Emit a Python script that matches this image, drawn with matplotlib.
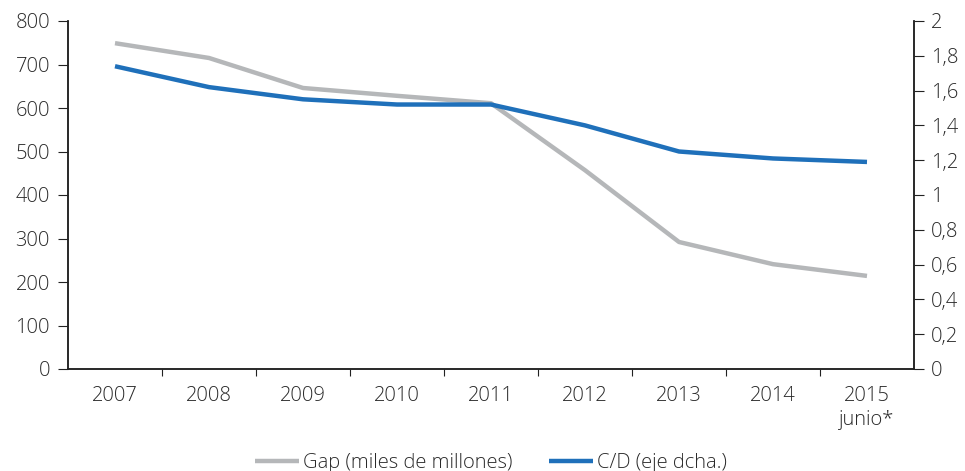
import matplotlib

matplotlib.use("Agg")
import matplotlib.pyplot as plt

YEARS = ["2007", "2008", "2009", "2010", "2011", "2012", "2013", "2014", "2015\njunio*"]
GAP = [749, 715, 646, 628, 611, 457, 292, 241, 214]
CD = [1.74, 1.62, 1.55, 1.52, 1.52, 1.40, 1.25, 1.21, 1.19]
LEFT_TICKS = [0, 100, 200, 300, 400, 500, 600, 700, 800]
RIGHT_TICKS = [0, 0.2, 0.4, 0.6, 0.8, 1, 1.2, 1.4, 1.6, 1.8, 2]

GREY, BLUE, INK, TXT = "#B5B7B9", "#1F70BA", "#222222", "#2A2A2A"

plt.rcParams["font.family"] = ["Open Sans", "DejaVu Sans"]
plt.rcParams["font.weight"] = "light"
plt.rcParams["font.size"] = 14.5
plt.rcParams["text.color"] = TXT

fig = plt.figure(figsize=(9.65, 4.71), dpi=100)
ax = fig.add_axes([68 / 965, 102 / 471, 846 / 965, 348 / 471])
ax2 = ax.twinx()

x = list(range(len(YEARS)))
lg, = ax.plot(x, GAP, color=GREY, lw=3.2, solid_capstyle="butt", zorder=2)
lb, = ax2.plot(x, CD, color=BLUE, lw=3.2, solid_capstyle="butt", zorder=3)

ax.set_xlim(-0.5, len(YEARS) - 0.5)
ax.set_ylim(0, 800)
ax2.set_ylim(0, 2)
ax.set_yticks(LEFT_TICKS)
ax2.set_yticks(RIGHT_TICKS)
ax2.set_yticklabels([f"{v:g}".replace(".", ",") for v in RIGHT_TICKS])

# category labels sit between boundary ticks
ax.set_xticks([i + 0.5 for i in range(len(YEARS) - 1)])
ax.set_xticklabels([])
ax.set_xticks(x, minor=True)
ax.set_xticklabels(YEARS, minor=True, linespacing=1.3)
ax.tick_params(axis="x", which="major", length=5, direction="out", color=INK)
ax.tick_params(axis="x", which="minor", length=0, pad=12, labelcolor=TXT)
ax.tick_params(axis="y", length=7, color=INK, labelcolor=TXT, pad=6)
ax2.tick_params(axis="y", length=7, color=INK, labelcolor=TXT, pad=5)

for a in (ax, ax2):
    a.spines["top"].set_visible(False)
    for s in ("left", "right", "bottom"):
        a.spines[s].set_color(INK)
        a.spines[s].set_linewidth(1.1)

ax2.legend([lg, lb], ["Gap (miles de millones)", "C/D (eje dcha.)"],
           loc="lower center", bbox_to_anchor=(0.5, -0.35), ncol=2,
           frameon=False, handlelength=2.2, handletextpad=0.2, columnspacing=1.8,
           fontsize=14.5)

fig.savefig("out.png")
